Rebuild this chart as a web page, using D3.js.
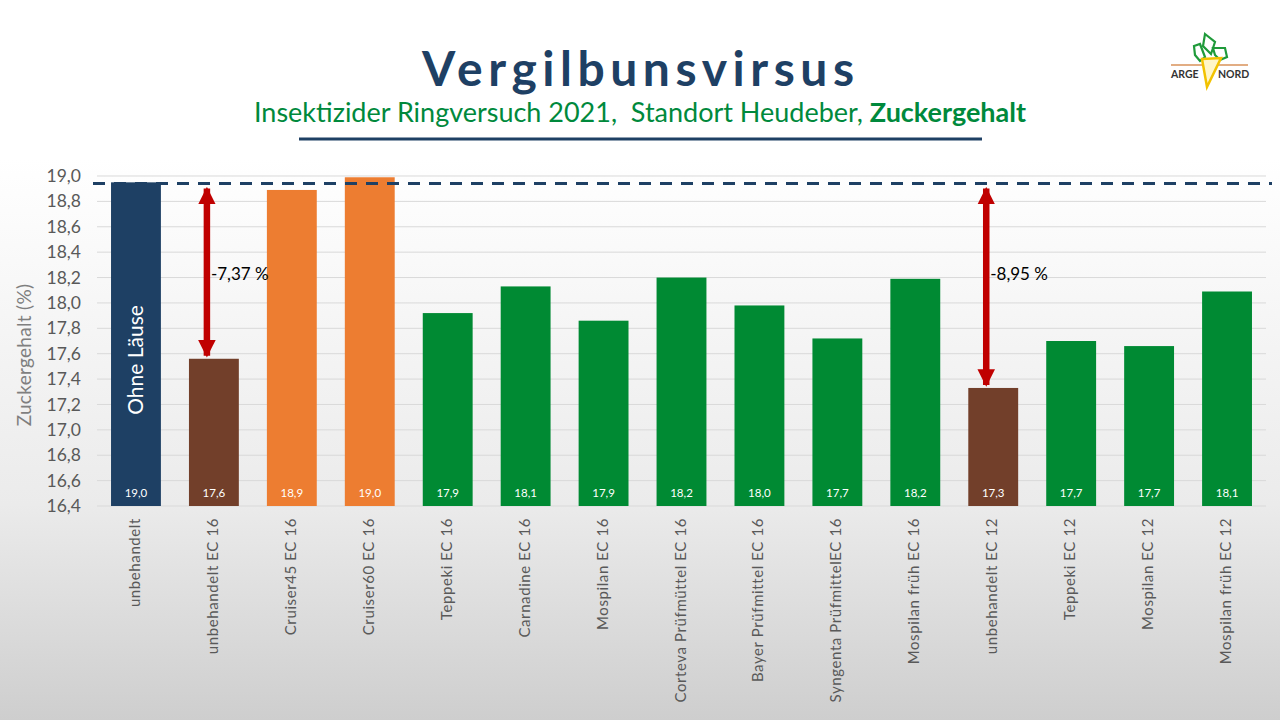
<!DOCTYPE html>
<html lang="de">
<head>
<meta charset="UTF-8">
<title>Vergilbunsvirsus - Zuckergehalt</title>
<style>
    body { margin: 0; background: #fff; }
    svg { display: block; font-family: Lato, "Open Sans", sans-serif; }
</style>
</head>
<body>
<svg id="chart" width="1280" height="720"></svg>
<script src="https://d3js.org/d3.v7.min.js"></script>
<script>
// Werte
const categories = [
    'unbehandelt', 'unbehandelt EC 16', 'Cruiser45 EC 16', 'Cruiser60 EC 16',
    'Teppeki EC 16', 'Carnadine EC 16', 'Mospilan EC 16', 'Corteva Prüfmüttel EC 16',
    'Bayer  Prüfmittel EC 16', 'Syngenta PrüfmittelEC 16', 'Mospilan früh EC 16',
    'unbehandelt EC 12', 'Teppeki EC 12', 'Mospilan EC 12', 'Mospilan früh EC 12'
];
const values = [18.95, 17.56, 18.89, 18.99, 17.92, 18.13, 17.86, 18.20, 17.98, 17.72, 18.19, 17.33, 17.70, 17.66, 18.09];
const valueLabels = ['19,0', '17,6', '18,9', '19,0', '17,9', '18,1', '17,9', '18,2', '18,0', '17,7', '18,2', '17,3', '17,7', '17,7', '18,1'];
const groups = ['ref', 'untreated', 'cruiser', 'cruiser', 'treated', 'treated', 'treated', 'treated',
    'treated', 'treated', 'treated', 'untreated', 'treated', 'treated', 'treated'];
const yTicks = [16.4, 16.6, 16.8, 17.0, 17.2, 17.4, 17.6, 17.8, 18.0, 18.2, 18.4, 18.6, 18.8, 19.0];
const referenceValue = 18.94;
const diffCategories = ['unbehandelt EC 16', 'unbehandelt EC 12'];
const diffLabels = ['-7,37 %', '-8,95 %'];

const colors = {ref: '#1e4064', untreated: '#723f2a', cruiser: '#ed7d31', treated: '#008a33'};
const darkBlue = '#1e4064';
const red = '#c00000';

const svg = d3.select('#chart');

// Hintergrund mit Verlauf
const defs = svg.append('defs');
const grad = defs.append('linearGradient').attr('id', 'bg')
    .attr('x1', 0).attr('y1', 0).attr('x2', 0).attr('y2', 1);
grad.append('stop').attr('offset', '0.22').attr('stop-color', '#ffffff');
grad.append('stop').attr('offset', '0.70').attr('stop-color', '#ebebeb');
grad.append('stop').attr('offset', '1').attr('stop-color', '#cecece');
svg.append('rect').attr('width', 1280).attr('height', 720).attr('fill', 'url(#bg)');

defs.append('marker').attr('id', 'head')
    .attr('viewBox', '0 0 10 10').attr('refX', 9).attr('refY', 5)
    .attr('markerWidth', 2.7).attr('markerHeight', 2.7)
    .attr('markerUnits', 'strokeWidth').attr('orient', 'auto-start-reverse')
    .append('path').attr('d', 'M0,0 L10,5 L0,10 Z').attr('fill', red);

// Titel
svg.append('text')
    .attr('x', 638).attr('y', 86)
    .attr('text-anchor', 'middle')
    .attr('font-size', 48).attr('font-weight', 'bold')
    .attr('fill', darkBlue)
    .attr('textLength', 432).attr('lengthAdjust', 'spacing')
    .text('Vergilbunsvirsus');

const sub = svg.append('text')
    .attr('x', 640).attr('y', 122)
    .attr('text-anchor', 'middle')
    .attr('font-size', 26)
    .attr('fill', '#00893c')
    .attr('textLength', 772).attr('lengthAdjust', 'spacingAndGlyphs');
sub.append('tspan').text('Insektizider Ringversuch 2021,\u00a0 Standort Heudeber, ');
sub.append('tspan').attr('font-weight', 'bold').text('Zuckergehalt');

svg.append('line')
    .attr('x1', 299).attr('x2', 982).attr('y1', 139).attr('y2', 139)
    .attr('stroke', darkBlue).attr('stroke-width', 3);

// Logo ARGE NORD
const logo = svg.append('g').attr('transform', 'translate(1165,30)');
logo.append('line').attr('x1', 6).attr('x2', 83).attr('y1', 35).attr('y2', 35)
    .attr('stroke', '#d9925a').attr('stroke-width', 1.5);
const leaves = [
    [[29, 16], [35, 14], [40, 27], [35, 31], [30, 25]],
    [[40, 4], [50, 12], [46, 24], [38, 16]],
    [[48, 18], [60, 18], [62, 27], [55, 30], [50, 25]]
];
logo.selectAll('polygon.leaf').data(leaves).enter().append('polygon')
    .attr('class', 'leaf')
    .attr('points', d => d.map(p => p.join(',')).join(' '))
    .attr('fill', 'none').attr('stroke', '#1f9a3a').attr('stroke-width', 2.2);
logo.append('polygon').attr('points', '37,29 56,28 42,57')
    .attr('fill', '#fff6c8').attr('stroke', '#f2c200').attr('stroke-width', 2.5);
logo.append('text').attr('x', 6).attr('y', 48).attr('font-size', 10.5).attr('font-weight', 'bold')
    .attr('fill', '#333').text('ARGE');
logo.append('text').attr('x', 53).attr('y', 48).attr('font-size', 10.5).attr('font-weight', 'bold')
    .attr('fill', '#333').text('NORD');

// Skalen
const x = d3.scaleBand().domain(categories).range([97, 1266]).paddingInner(0.36).paddingOuter(0.18);
const y = d3.scaleLinear().domain([16.4, 19.0]).range([506, 176]);

// Gitternetz
svg.append('g')
    .selectAll('line')
    .data(yTicks)
    .enter().append('line')
    .attr('x1', 97).attr('x2', 1266)
    .attr('y1', d => y(d)).attr('y2', d => y(d))
    .attr('stroke', '#d9d9d9').attr('stroke-width', 1);

// y-Achse
const yAxis = svg.append('g')
    .attr('transform', 'translate(81,0)')
    .call(d3.axisLeft(y).tickValues(yTicks).tickSize(0).tickPadding(0)
        .tickFormat(d => d3.format('.1f')(d).replace('.', ',')));
yAxis.select('.domain').remove();
yAxis.selectAll('text')
    .attr('font-size', 17.5).attr('fill', '#595959')
    .attr('font-family', 'Lato, sans-serif');

svg.append('text')
    .attr('transform', 'translate(31,355) rotate(-90)')
    .attr('text-anchor', 'middle')
    .attr('font-size', 19).attr('fill', '#7f7f7f')
    .attr('letter-spacing', 0.3)
    .text('Zuckergehalt  (%)');

// Balken
svg.append('g')
    .selectAll('rect')
    .data(values)
    .enter().append('rect')
    .attr('x', (d, i) => x(categories[i]))
    .attr('width', x.bandwidth())
    .attr('y', d => y(d))
    .attr('height', d => y(16.4) - y(d))
    .attr('fill', (d, i) => colors[groups[i]]);

// Werte in den Balken
svg.append('g')
    .selectAll('text')
    .data(valueLabels)
    .enter().append('text')
    .attr('x', (d, i) => x(categories[i]) + x.bandwidth() / 2)
    .attr('y', 497)
    .attr('text-anchor', 'middle')
    .attr('font-size', 11.5).attr('fill', '#fff')
    .text(d => d);

// Beschriftung im ersten Balken
svg.append('text')
    .attr('transform', `translate(${x(categories[0]) + x.bandwidth() / 2 + 7},360) rotate(-90)`)
    .attr('text-anchor', 'middle')
    .attr('font-size', 21).attr('fill', '#fff')
    .text('Ohne Läuse');

// x-Achse
const xAxis = svg.append('g')
    .attr('transform', 'translate(0,506)')
    .call(d3.axisBottom(x).tickSize(0).tickPadding(0));
xAxis.select('.domain').remove();
xAxis.selectAll('text')
    .attr('transform', 'translate(4,12) rotate(-90)')
    .attr('text-anchor', 'end')
    .attr('dy', 0)
    .attr('x', 0).attr('y', 0)
    .attr('font-size', 15).attr('fill', '#595959')
    .attr('font-family', 'Lato, sans-serif')
    .attr('letter-spacing', 0.6);

// Referenzlinie
svg.append('line')
    .attr('x1', 93).attr('x2', 1272)
    .attr('y1', y(referenceValue)).attr('y2', y(referenceValue))
    .attr('stroke', darkBlue).attr('stroke-width', 3)
    .attr('stroke-dasharray', '12,9');

// Differenzpfeile
diffCategories.forEach((cat, i) => {
    const i0 = categories.indexOf(cat);
    const ax = x(cat) + x.bandwidth() / 2 - 7;
    svg.append('line')
        .attr('x1', ax).attr('x2', ax)
        .attr('y1', y(referenceValue) + 5)
        .attr('y2', y(values[i0]) - 3)
        .attr('stroke', red).attr('stroke-width', 6.5)
        .attr('marker-start', 'url(#head)')
        .attr('marker-end', 'url(#head)');
    svg.append('text')
        .attr('x', ax + 4).attr('y', y(18.23))
        .attr('dy', '0.35em')
        .attr('font-size', 17).attr('fill', '#000')
        .text(diffLabels[i]);
});
</script>
</body>
</html>
